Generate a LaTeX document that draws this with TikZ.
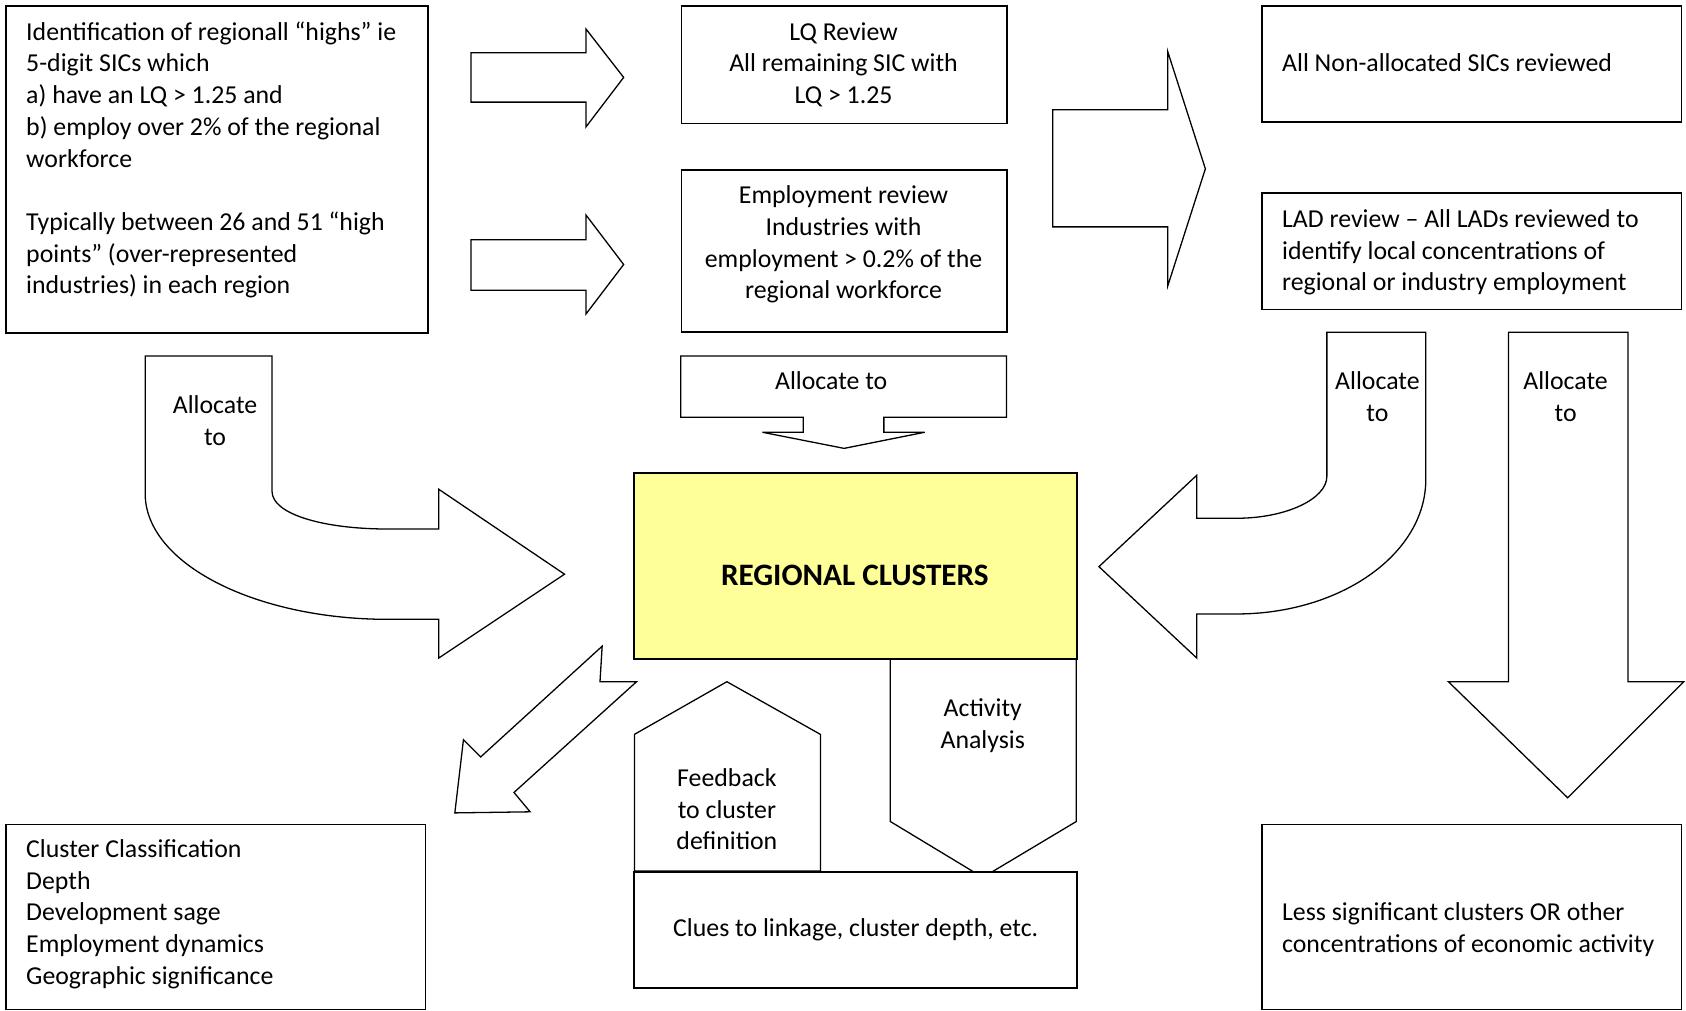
\documentclass[tikz,border=0pt]{standalone}
\usepackage{fontspec}
\setmainfont{Carlito}
\newcommand\fstrut{\rule{0pt}{10pt}}
\definecolor{paleyellow}{RGB}{255,255,153}
\begin{document}
\begin{tikzpicture}[x=0.5pt,y=-0.5pt,line join=miter]
\tikzset{
  box/.style={draw,line width=0.8pt,fill=white,inner sep=0pt},
  blk/.style={draw,line width=0.6pt,fill=white},
  txt/.style={inner sep=0pt,font=\fontsize{12}{14.75}\selectfont},
  ltxt/.style={txt,align=left,anchor=north west},
  ctxt/.style={txt,align=center,anchor=north}
}
\useasboundingbox (0,0) rectangle (1568,940);

% ---- boxes ----
\node[box,anchor=north west,minimum width=196pt,minimum height=152pt] (ident) at (5,5) {};
\node[ltxt] (identT) at (24,17) {\fstrut Identification of regionall “highs” ie\\5-digit SICs which\\a) have an LQ > 1.25 and\\b) employ over 2\% of the regional\\workforce\\\mbox{}\\Typically between 26 and 51 “high\\points” (over-represented\\industries) in each region};

\node[box,anchor=north west,minimum width=151.5pt,minimum height=54.5pt] (lq) at (633,5) {};
\node[ctxt] (lqT) at (784.5,17) {\fstrut LQ Review\\All remaining SIC with\\LQ > 1.25};

\node[box,anchor=north west,minimum width=151.5pt,minimum height=75.5pt] (emp) at (633,157) {};
\node[ctxt] (empT) at (784.5,169) {\fstrut Employment review\\Industries with\\employment > 0.2\% of the\\regional workforce};

\node[box,anchor=north west,minimum width=195pt,minimum height=54pt] (nonal) at (1173,5) {};
\node[ltxt] (nonalT) at (1192,46) {\fstrut All Non-allocated SICs reviewed};

\node[box,anchor=north west,minimum width=195pt,minimum height=54pt] (lad) at (1173,179) {};
\node[ltxt] (ladT) at (1192,191) {\fstrut LAD review – All LADs reviewed to\\identify local concentrations of\\regional or industry employment};

\node[box,anchor=north west,minimum width=195pt,minimum height=86pt] (classif) at (5,766) {};
\node[ltxt] (classifT) at (24,777) {\fstrut Cluster Classification\\Depth\\Development sage\\Employment dynamics\\Geographic significance};

\node[box,anchor=north west,minimum width=195pt,minimum height=86pt] (less) at (1173,766) {};
\node[ltxt] (lessT) at (1192,836) {\fstrut Less significant clusters OR other\\concentrations of economic activity};

% ---- straight block arrows ----
\draw[blk] (438,49)--(545,49)--(545,27)--(580,72)--(545,118)--(545,95)--(438,95)--cycle;
\draw[blk] (438,223)--(545,223)--(545,200)--(580,246)--(545,292)--(545,270)--(438,270)--cycle;
\draw[blk] (979,102)--(1086,102)--(1086,48)--(1121,157)--(1086,266)--(1086,211)--(979,211)--cycle;

% ---- allocate callout ----
\draw[blk] (633,331)--(936,331)--(936,388)--(822,388)--(822,402)--(860,402)--(785,417)--(709,402)--(747,402)--(747,388)--(633,388)--cycle;
\node[ctxt] (callT) at (773,342) {\fstrut Allocate to};

% ---- left curved arrow ----
\draw[blk] (135,331)--(253,331)--(253,457) .. controls (253,478) and (300,492) .. (361,492)
  --(408,492)--(408,455)--(525,534)--(408,612)--(408,576)--(361,576)
  .. controls (237,576) and (135,524) .. (135,459)--cycle;
\node[ctxt] (leftT) at (200,364) {\fstrut Allocate\\to};

% ---- right curved arrow ----
\draw[blk] (1234,309)--(1326,309)--(1326,446) .. controls (1326,515) and (1247,571) .. (1150,571)
  --(1113,571)--(1113,612)--(1022,527)--(1113,442)--(1113,482)--(1150,482)
  .. controls (1196,482) and (1234,464) .. (1234,443)--cycle;
\node[ctxt] (rightT) at (1281,342) {\fstrut Allocate\\to};

% ---- down arrow ----
\draw[blk] (1403,309)--(1514,309)--(1514,634)--(1566,634)--(1458,742)--(1347,634)--(1403,634)--cycle;
\node[ctxt] (downT) at (1456,342) {\fstrut Allocate\\to};

% ---- diagonal notched arrow ----
\draw[blk] (560,601)--(558,634)--(592,634)--(478,737)--(493,755)--(423,756)--(431,688)--(447,704)--cycle;

% ---- pentagons ----
\draw[blk] (590,810)--(590,683)--(676,634)--(763,683)--(763,810)--cycle;
\node[ctxt] (feedT) at (676,711) {\fstrut Feedback\\to cluster\\definition};
\draw[blk] (828,612)--(1001,612)--(1001,764)--(914,816)--(828,764)--cycle;
\node[ctxt] (actT) at (914,646) {\fstrut Activity\\Analysis};

% ---- centre boxes ----
\node[box,anchor=north west,minimum width=206pt,minimum height=54pt,font=\fontsize{12}{14.75}\selectfont] (clues) at (589,810) {Clues to linkage, cluster depth, etc.};
\node[box,fill=paleyellow,anchor=north west,minimum width=206pt,minimum height=86.5pt] (core) at (589,439) {};
\node[inner sep=0pt,font=\fontsize{14.5}{17}\selectfont\bfseries] (coreT) at (795,535) {REGIONAL CLUSTERS};
\end{tikzpicture}
\end{document}
